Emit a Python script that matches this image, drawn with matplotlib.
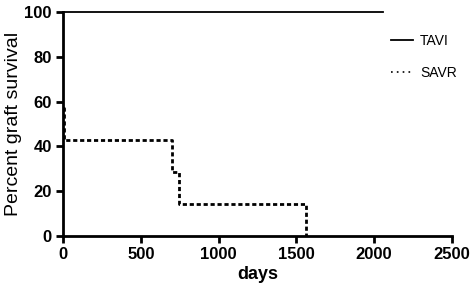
import matplotlib

matplotlib.use("Agg")
import matplotlib.pyplot as plt

# Kaplan-Meier step data (days, percent survival)
tavi_days = [0, 2060]
tavi_surv = [100, 100]

savr_days = [0, 5, 698, 746, 1560, 1560]
savr_surv = [57.1, 42.9, 28.6, 14.3, 14.3, 0]

xticks = [0, 500, 1000, 1500, 2000, 2500]
yticks = [0, 20, 40, 60, 80, 100]

plt.rcParams["font.family"] = ["Liberation Sans", "DejaVu Sans"]

fig = plt.figure(figsize=(4.72, 2.95), dpi=100)
ax = fig.add_axes([0.1335, 0.2, 0.824, 0.759])

ax.step(tavi_days, tavi_surv, where="post", color="black", lw=1.3,
        label="TAVI", clip_on=False)
ax.step(savr_days, savr_surv, where="post", color="black", lw=2,
        linestyle=(0, (1.5, 1)), label="SAVR", clip_on=False)

ax.set_xlim(0, 2500)
ax.set_ylim(0, 100)
ax.set_xticks(xticks)
ax.set_yticks(yticks)
for lbl in ax.get_xticklabels() + ax.get_yticklabels():
    lbl.set_fontweight("bold")
    lbl.set_fontsize(12)

ax.spines["top"].set_visible(False)
ax.spines["right"].set_visible(False)
ax.spines["left"].set_linewidth(2)
ax.spines["bottom"].set_linewidth(2)
ax.tick_params(width=2, length=5, pad=3)

ax.set_xlabel("days", fontsize=13, fontweight="bold", labelpad=3)
ax.set_ylabel("Percent graft survival", fontsize=14, labelpad=2)

leg = ax.legend(loc="upper right", bbox_to_anchor=(1.045, 0.96), frameon=False,
                fontsize=10, handlelength=1.6, labelspacing=1.3,
                handletextpad=0.5)
leg.get_lines()[1].set_linestyle((0, (1, 2.5)))
leg.get_lines()[1].set_linewidth(1.2)

fig.savefig("out.png", dpi=100)
